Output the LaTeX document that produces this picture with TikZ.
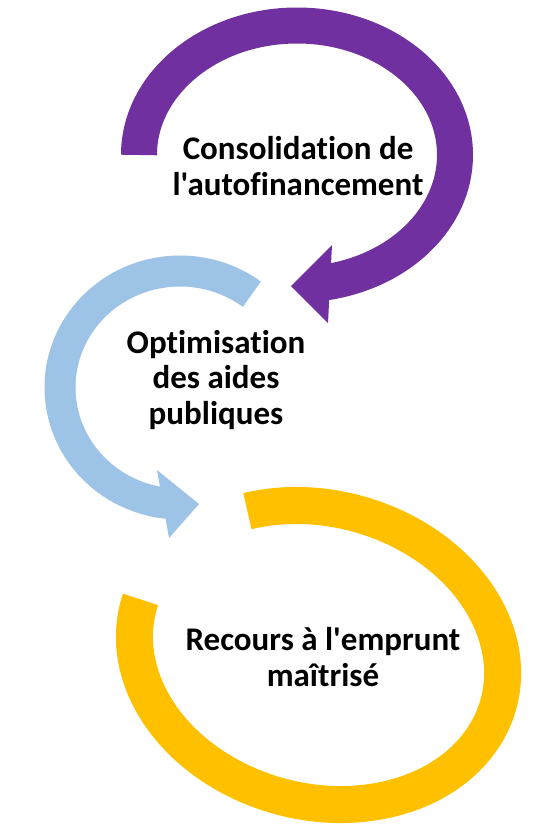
\documentclass[tikz,border=0pt]{standalone}
\usepackage{fontspec}
\setmainfont{Carlito}[Ligatures={TeXOff,CommonOff}]
\definecolor{cpurple}{HTML}{7030A0}
\definecolor{cblue}{HTML}{9DC3E6}
\definecolor{cyellow}{HTML}{FFC000}
\begin{document}
\begin{tikzpicture}[x=1pt,y=-1pt,
  band/.style={line width=#1, line cap=butt},
  lbl/.style={font=\bfseries\fontsize{33}{35.5}\selectfont, align=center, inner sep=0pt, text=black}]
\useasboundingbox[fill=white] (0,0) rectangle (540,828);
% purple ring
\draw[cpurple, band=36] ([shift={(297,155)}]180:158 and 129.5)
   arc[start angle=180, end angle=440, x radius=158, y radius=129.5];
\fill[cpurple] (332,245) -- (291,286) -- (328,323) -- cycle;
% blue ring
\draw[cblue, band=31] ([shift={(180,387.5)}]-53.2:120 and 116.5)
   arc[start angle=-53.2, end angle=-264, x radius=120, y radius=116.5];
\fill[cblue] (157,470) -- (199,504) -- (169,538) -- cycle;
% yellow ring
\begin{scope}[shift={(318.5,655)}, rotate=-15]
\draw[cyellow, band=37] (235.4:186.5 and 146.5)
   arc[start angle=235.4, end angle=543, x radius=186.5, y radius=146.5];
\end{scope}
% labels
\node[lbl] (t1) at (298,166) {Consolidation de\\l'autofinancement};
\node[lbl] (t2) at (216,380) {Optimisation\\des aides\\publiques};
\node[lbl] (t3) at (323,657) {Recours à l'emprunt\\maîtrisé};
\end{tikzpicture}
\end{document}
